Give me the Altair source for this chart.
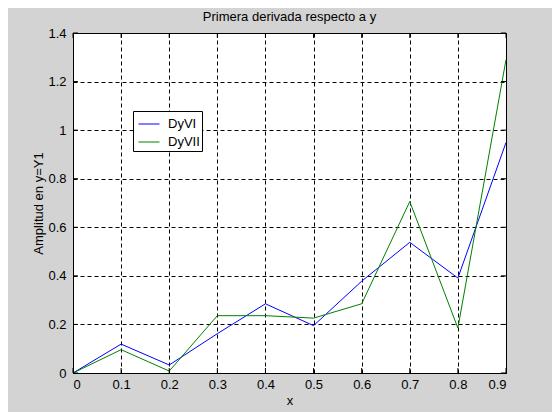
import altair as alt
import pandas as pd

x_vals = [0, 0.1, 0.2, 0.3, 0.4, 0.5, 0.6, 0.7, 0.8, 0.9]
dyvi = [0, 0.119, 0.033, 0.162, 0.285, 0.195, 0.378, 0.538, 0.391, 0.949]
dyvii = [0, 0.096, 0.008, 0.236, 0.236, 0.226, 0.285, 0.706, 0.185, 1.290]
series_names = ["DyVI", "DyVII"]
colors = ["#0000ff", "#008000"]
x_ticks = [0, 0.1, 0.2, 0.3, 0.4, 0.5, 0.6, 0.7, 0.8, 0.9]
y_ticks = [0, 0.2, 0.4, 0.6, 0.8, 1.0, 1.2, 1.4]

rows = []
for name, vals in zip(series_names, [dyvi, dyvii]):
    for xv, yv in zip(x_vals, vals):
        rows.append({"x": xv, "y": yv, "serie": name})
df = pd.DataFrame(rows)
xt = pd.DataFrame({"t": x_ticks})
yt = pd.DataFrame({"t": y_ticks})

font = "Liberation Sans"
W, H = 433, 340

xscale = alt.Scale(domain=[0, 0.9], nice=False)
yscale = alt.Scale(domain=[0, 1.4], nice=False)

lines = alt.Chart(df).mark_line(strokeWidth=1).encode(
    x=alt.X("x:Q", scale=xscale,
            axis=alt.Axis(values=x_ticks, format="~g", title="x", ticks=False,
                          labelPadding=5, titlePadding=3)),
    y=alt.Y("y:Q", scale=yscale,
            axis=alt.Axis(values=y_ticks, format="~g", title="Amplitud en y=Y1", ticks=False,
                          labelPadding=7, titleX=-35, titleBaseline="middle")),
    color=alt.Color("serie:N", scale=alt.Scale(domain=series_names, range=colors),
                    legend=alt.Legend(title=None, orient="none", legendX=60, legendY=78,
                                      symbolType="stroke", symbolSize=440, symbolStrokeWidth=1,
                                      fillColor="white", strokeColor="black", padding=2,
                                      symbolOffset=3,
                                      labelFontSize=13, labelFont=font, labelColor="black",
                                      rowPadding=-6, labelOffset=8)),
    order="x:Q",
)

tick_len = 5
xt_bottom = alt.Chart(xt).mark_rule(color="black", strokeWidth=1).encode(
    x=alt.X("t:Q", scale=xscale), y=alt.value(H), y2=alt.value(H - tick_len))
xt_top = alt.Chart(xt).mark_rule(color="black", strokeWidth=1).encode(
    x=alt.X("t:Q", scale=xscale), y=alt.value(0), y2=alt.value(tick_len))
yt_left = alt.Chart(yt).mark_rule(color="black", strokeWidth=1).encode(
    y=alt.Y("t:Q", scale=yscale), x=alt.value(0), x2=alt.value(tick_len))
yt_right = alt.Chart(yt).mark_rule(color="black", strokeWidth=1).encode(
    y=alt.Y("t:Q", scale=yscale), x=alt.value(W), x2=alt.value(W - tick_len))

chart = alt.layer(lines, xt_bottom, xt_top, yt_left, yt_right).properties(
    width=W, height=H,
    title=alt.TitleParams("Primera derivada respecto a y", fontSize=13, font=font,
                          fontWeight="normal", color="black", offset=3),
    autosize=alt.AutoSizeParams(type="none"),
    padding={"left": 65, "top": 25, "right": 46, "bottom": 39},
    background="#d3d3d3",
).configure_view(
    fill="white", stroke="black", strokeWidth=1
).configure_axis(
    grid=True, gridColor="black", gridDash=[4, 3], gridOpacity=1, gridWidth=1,
    domainColor="black",
    labelFont=font, labelFontSize=13, labelColor="black",
    titleFont=font, titleFontSize=13, titleFontWeight="normal", titleColor="black",
)

chart.save("out.html", embed_options={"renderer": "svg", "actions": False})
